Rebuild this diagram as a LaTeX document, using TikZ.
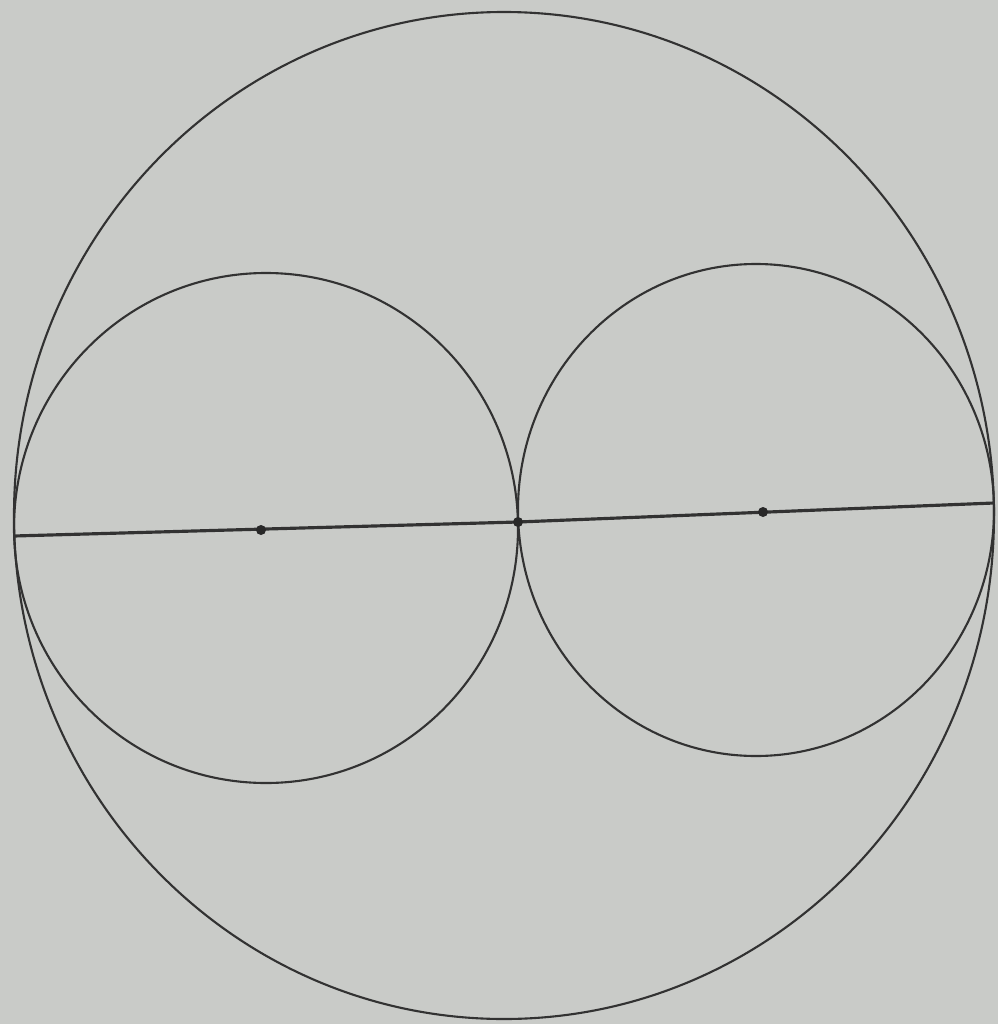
\documentclass[tikz,border=0pt]{standalone}
\usepackage{xcolor}
\definecolor{paper}{RGB}{201,203,200}
\definecolor{pencil}{RGB}{50,50,50}
\begin{document}
\begin{tikzpicture}[x=0.01cm, y=-0.01cm, line width=0.6pt, draw=pencil]
    \fill[paper] (0,0) rectangle (998,1024);
    \useasboundingbox (0,0) rectangle (998,1024);
    \coordinate (A) at (14,536);
    \coordinate (M) at (518,522);
    \coordinate (B) at (994,503);
    \coordinate (O1) at (261,530);
    \coordinate (O2) at (763,512);
    \draw[pencil] (504,515.5) ellipse [x radius=490, y radius=503.5];
    \draw[pencil] (266,528) ellipse [x radius=252, y radius=255];
    \draw[pencil] (756,510) ellipse [x radius=238, y radius=246];
    \draw[pencil, line width=0.9pt] (A) -- (M) -- (B);
    \foreach \p in {O1,M,O2}
        \fill[pencil!80!black] (\p) circle (5);
\end{tikzpicture}
\end{document}
